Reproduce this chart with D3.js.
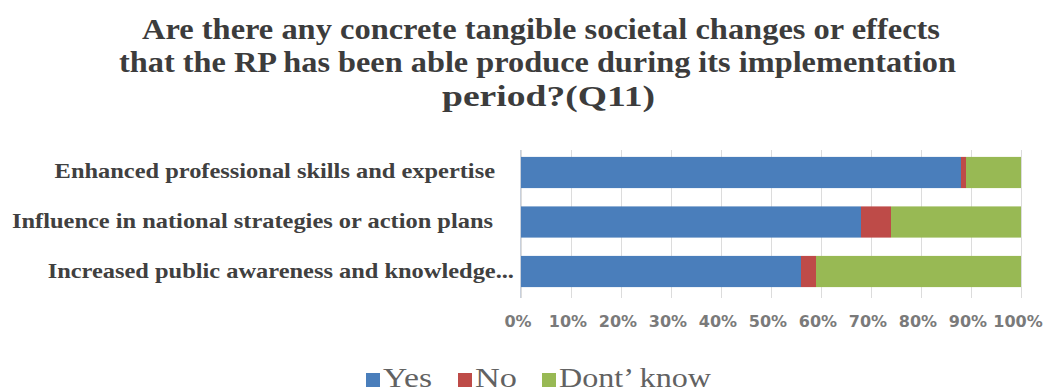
<!DOCTYPE html>
<html><head><meta charset="utf-8">
<script src="https://cdn.jsdelivr.net/npm/d3@7"></script>
<style>body{margin:0;background:#fff}</style>
</head><body>
<svg id="c" width="1045" height="392"></svg>
<script>
const categories = ["Enhanced professional skills and expertise","Influence in national strategies or action plans","Increased public awareness and knowledge..."];
const seriesNames = ["Yes","No","Dont’ know"];
const yesValues = [88, 68, 56];
const noValues = [1, 6, 3];
const dontKnowValues = [11, 26, 41];
const tickValues = [0,10,20,30,40,50,60,70,80,90,100];
const titleLines = ["Are there any concrete tangible societal changes or effects","that the RP has been able produce during its implementation","period?(Q11)"];
const colors = ["#4a7ebb","#be4b48","#98b954"];

const svg = d3.select("#c");
const x = d3.scaleLinear().domain([0,100]).range([521,1021]);
const y = d3.scaleBand().domain(categories).range([147,297]).paddingInner(0.37).paddingOuter(0.2);

const table = categories.map((c,i)=>({cat:c, Yes:yesValues[i], No:noValues[i], "Dont’ know":dontKnowValues[i]}));
const stack = d3.stack().keys(seriesNames)(table);

// gridlines
svg.append("g").selectAll("line").data(tickValues).join("line")
  .attr("x1",d=>x(d)+0.5).attr("x2",d=>x(d)+0.5).attr("y1",150).attr("y2",298)
  .attr("stroke","#dcdcdc").attr("stroke-width",1);

// bars
svg.append("g").selectAll("g").data(stack).join("g").attr("fill",(d,i)=>colors[i])
  .selectAll("rect").data(d=>d).join("rect")
  .attr("x",d=>x(d[0])).attr("width",d=>x(d[1])-x(d[0]))
  .attr("y",d=>y(d.data.cat)).attr("height",y.bandwidth());

// left axis line
svg.append("line").attr("x1",520.5).attr("x2",520.5).attr("y1",150).attr("y2",298).attr("stroke","#c8d0dc");

// category labels
const labelRight = [495, 493, 514];
const labels = svg.append("g").selectAll("text").data(categories).join("text")
  .attr("x",(d,i)=>labelRight[i]).attr("y",d=>y(d)+y.bandwidth()/2+6)
  .attr("text-anchor","end").attr("font-family","Liberation Serif").attr("font-weight","bold")
  .attr("font-size",22).attr("fill","#404040").text(d=>d);
const refW = labels.nodes()[1].getComputedTextLength();
const sc = 481/refW;
labels.each(function(){ const w=this.getComputedTextLength(); d3.select(this).attr("textLength",w*sc).attr("lengthAdjust","spacingAndGlyphs"); });

// x tick labels
svg.append("g").selectAll("text").data(tickValues).join("text")
  .attr("x",d=>x(d)-3).attr("y",327).attr("text-anchor","middle")
  .attr("font-family","DejaVu Sans").attr("font-weight","bold")
  .attr("font-size",16).attr("fill","#7a7a7a").text(d=>d+"%");

// title
const titleCx = [541, 537.5, 548.5];
const titleW = [798, 837, 213];
const titleY = [39, 72, 106];
svg.append("g").selectAll("text").data(titleLines).join("text")
  .attr("x",(d,i)=>titleCx[i]).attr("y",(d,i)=>titleY[i]).attr("text-anchor","middle")
  .attr("font-family","Liberation Serif").attr("font-weight","bold")
  .attr("font-size",29).attr("fill","#3c3c3c")
  .attr("textLength",(d,i)=>titleW[i]).attr("lengthAdjust","spacingAndGlyphs").text(d=>d);

// legend
const lg = svg.append("g");
const legX = [366, 458, 542];
const legW = [49, 42, 152];
seriesNames.forEach((s,i)=>{
  lg.append("rect").attr("x",legX[i]).attr("y",373).attr("width",14).attr("height",14).attr("fill",colors[i]);
  lg.append("text").attr("x",legX[i]+17).attr("y",387).attr("font-family","Liberation Serif")
    .attr("font-size",27).attr("fill","#626262")
    .attr("textLength",legW[i]).attr("lengthAdjust","spacingAndGlyphs").text(s);
});
</script>
</body></html>
